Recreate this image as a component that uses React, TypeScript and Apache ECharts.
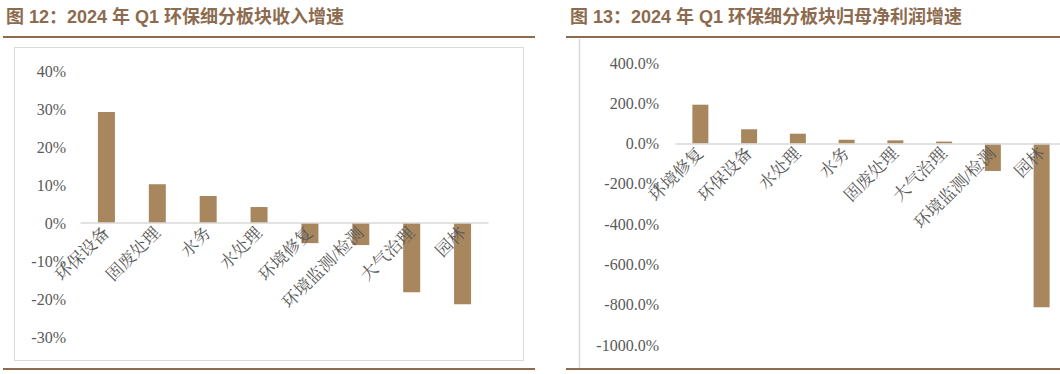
import React, { useEffect, useRef } from "react";
import * as echarts from "echarts";

const leftTitle = "图 12：2024 年 Q1 环保细分板块收入增速";
const rightTitle = "图 13：2024 年 Q1 环保细分板块归母净利润增速";

const leftCategories = ["环保设备", "固废处理", "水务", "水处理", "环境修复", "环境监测/检测", "大气治理", "园林"];
const leftValues = [29.2, 10.2, 7.1, 4.2, -5.3, -5.8, -18.2, -21.4];

const rightCategories = ["环境修复", "环保设备", "水处理", "水务", "固废处理", "大气治理", "环境监测/检测", "园林"];
const rightValues = [193, 71, 49, 19, 16, 10, -136, -812];

const BAR = "#A8865E";
const BROWN = "#8C6B4F";
const GRAY_TXT = "#595959";
const AXIS = "#D9D9D9";
const SERIF = '"Liberation Serif", "Noto Serif CJK SC", "Noto Sans CJK SC", serif';
const SANS = '"Liberation Sans", Arial, "Noto Sans CJK SC", sans-serif';

// grid geometry (pixels)
const L = { left: 81, top: 71, width: 407, height: 266 };
const R = { left: 676, top: 63, width: 390, height: 282 };

export default function App() {
  const ref = useRef<HTMLDivElement>(null);
  useEffect(() => {
    if (!ref.current) return;
    const chart = echarts.init(ref.current, undefined, { renderer: "svg" });
    const catLabel = {
      rotate: 45,
      color: GRAY_TXT,
      fontFamily: SERIF,
      fontSize: 17,
      margin: 7,
      interval: 0,
    };
    // place the category axis at the zero value (axis fraction from top)
    const lMin = -30, lMax = 40, rMin = -1000, rMax = 400;
    const lOffset = -(L.height * (0 - lMin)) / (lMax - lMin);
    const rOffset = -(R.height * (0 - rMin)) / (rMax - rMin);
    chart.setOption({
      animation: false,
      backgroundColor: "#FFFFFF",
      graphic: [
        { type: "text", left: 6, top: 8, style: { text: leftTitle, fill: BROWN, font: `bold 18px ${SANS}` } },
        { type: "text", left: 570, top: 8, style: { text: rightTitle, fill: BROWN, font: `bold 18px ${SANS}` } },
        { type: "line", shape: { x1: 3, y1: 37, x2: 535, y2: 37 }, style: { stroke: BROWN, lineWidth: 2 } },
        { type: "line", shape: { x1: 566, y1: 37, x2: 1060, y2: 37 }, style: { stroke: BROWN, lineWidth: 2 } },
        { type: "line", shape: { x1: 3, y1: 369, x2: 535, y2: 369 }, style: { stroke: BROWN, lineWidth: 2 } },
        { type: "line", shape: { x1: 566, y1: 369, x2: 1060, y2: 369 }, style: { stroke: BROWN, lineWidth: 2 } },
        { type: "rect", shape: { x: 14.5, y: 47.5, width: 509, height: 313 }, style: { fill: "none", stroke: AXIS, lineWidth: 1 } },
        { type: "line", shape: { x1: 579.5, y1: 39, x2: 579.5, y2: 368 }, style: { stroke: AXIS, lineWidth: 1.5 } },
      ],
      grid: [
        { ...L, containLabel: false, outerBoundsMode: "none" },
        { ...R, containLabel: false, outerBoundsMode: "none" },
      ],
      xAxis: [
        {
          type: "category",
          gridIndex: 0,
          data: leftCategories,
          z: 10,
          offset: lOffset,
          axisLine: { onZero: false, lineStyle: { color: AXIS, width: 1.5 } },
          axisTick: { show: false },
          axisLabel: catLabel,
        },
        {
          type: "category",
          gridIndex: 1,
          data: rightCategories,
          z: 10,
          offset: rOffset,
          axisLine: { onZero: false, lineStyle: { color: AXIS, width: 1.5 } },
          axisTick: { show: false },
          axisLabel: catLabel,
        },
      ],
      yAxis: [
        {
          type: "value",
          gridIndex: 0,
          min: lMin,
          max: lMax,
          interval: 10,
          axisLine: { show: false },
          axisTick: { show: false },
          splitLine: { show: false },
          axisLabel: { formatter: (v: number) => `${v}%`, color: GRAY_TXT, fontFamily: SERIF, fontSize: 16, margin: 15 },
        },
        {
          type: "value",
          gridIndex: 1,
          min: rMin,
          max: rMax,
          interval: 200,
          axisLine: { show: false },
          axisTick: { show: false },
          splitLine: { show: false },
          axisLabel: { formatter: (v: number) => `${v.toFixed(1)}%`, color: GRAY_TXT, fontFamily: SERIF, fontSize: 16, margin: 17 },
        },
      ],
      series: [
        { type: "bar", xAxisIndex: 0, yAxisIndex: 0, data: leftValues, barWidth: 17, itemStyle: { color: BAR } },
        { type: "bar", xAxisIndex: 1, yAxisIndex: 1, data: rightValues, barWidth: 16, itemStyle: { color: BAR } },
      ],
    });
    return () => chart.dispose();
  }, []);
  return <div ref={ref} style={{ position: "fixed", left: 0, top: 0, width: 1060, height: 374 }} />;
}
